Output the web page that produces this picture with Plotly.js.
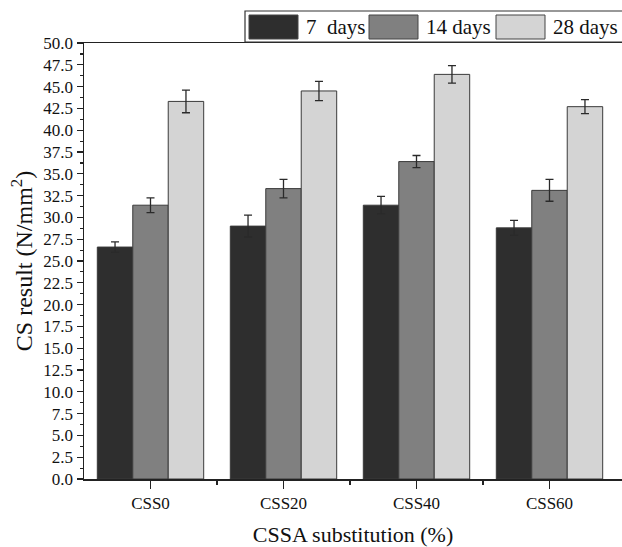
<!DOCTYPE html>
<html>
<head>
<meta charset="utf-8">
<script src="https://cdn.plot.ly/plotly-3.0.1.min.js"></script>
<style>html,body{margin:0;padding:0;background:#fff;}#chart{width:622px;height:547px;}</style>
</head>
<body>
<div id="chart"></div>
<script>
// Data
var categories = ["CSS0", "CSS20", "CSS40", "CSS60"];
var seriesNames = ["7  days", "14 days", "28 days"];
var days7 = [26.6, 29.0, 31.4, 28.8];
var days7Err = [0.6, 1.25, 1.0, 0.85];
var days14 = [31.4, 33.3, 36.4, 33.1];
var days14Err = [0.85, 1.05, 0.7, 1.25];
var days28 = [43.3, 44.5, 46.4, 42.7];
var days28Err = [1.3, 1.1, 1.0, 0.8];
var yTickVals = [0,2.5,5,7.5,10,12.5,15,17.5,20,22.5,25,27.5,30,32.5,35,37.5,40,42.5,45,47.5,50];

var colors = ["#2e2e2e", "#808080", "#d4d4d4"];
var values = [days7, days14, days28];
var errs = [days7Err, days14Err, days28Err];
var xIdx = categories.map(function(c, i){ return i; });

var traces = values.map(function(v, k){
  return {
    type: "bar",
    name: seriesNames[k],
    x: xIdx,
    y: v,
    marker: {color: colors[k], line: {color: "#3a3a3a", width: 1}},
    error_y: {type: "data", array: errs[k], visible: true, color: "#2a2a2a", thickness: 1.3, width: 4},
    showlegend: false
  };
});

var FONT = "Liberation Serif, Times New Roman, serif";
var L = 84, R = 622, T = 43, B = 479;
function px(x){ return (x - L) / (R - L); }
function py(y){ return (B - y) / (B - T); }

var shapes = [];
var annotations = [];
// legend box
shapes.push({type: "rect", xref: "paper", yref: "paper", x0: px(245), x1: px(640), y0: py(42), y1: py(11),
  line: {color: "#333", width: 1.2}, fillcolor: "#fff"});
var sw = [[249, 298], [369, 418], [496, 545]];
var tx = [304, 424, 551];
for (var k = 0; k < 3; k++) {
  shapes.push({type: "rect", xref: "paper", yref: "paper", x0: px(sw[k][0]), x1: px(sw[k][1]), y0: py(39), y1: py(15),
    line: {color: "#444", width: 1}, fillcolor: colors[k]});
  annotations.push({xref: "paper", yref: "paper", x: px(tx[k]), y: py(27), xanchor: "left", yanchor: "middle",
    text: seriesNames[k].replace(/ /g, "\u00a0"), showarrow: false, font: {family: FONT, size: 21, color: "#111"}});
}

var layout = {
  width: 622, height: 547,
  margin: {l: L, r: 622 - R, t: T, b: 547 - B, pad: 0},
  paper_bgcolor: "#fff", plot_bgcolor: "#fff",
  barmode: "group", bargap: 0.2, bargroupgap: 0,
  font: {family: FONT, color: "#111"},
  xaxis: {
    range: [-0.5, -0.5 + (R - L) / 133],
    tickmode: "array", tickvals: xIdx, ticktext: categories,
    ticks: "outside", ticklen: 8, tickwidth: 1.3, tickcolor: "#222",
    minor: {tickmode: "array", tickvals: [0.5, 1.5, 2.5], ticks: "outside", ticklen: 4, tickwidth: 1.3, tickcolor: "#222"},
    showline: true, linecolor: "#222", linewidth: 1.5, mirror: true,
    showgrid: false, zeroline: false,
    tickfont: {family: FONT, size: 17, color: "#111"},
    title: {text: "CSSA substitution (%)", font: {family: FONT, size: 22, color: "#111"}, standoff: 18}
  },
  yaxis: {
    range: [0, 50],
    tickmode: "array", tickvals: yTickVals, ticktext: yTickVals.map(function(v){ return v.toFixed(1); }),
    ticks: "outside", ticklen: 6, tickwidth: 1.3, tickcolor: "#222",
    minor: {dtick: 1.25, tick0: 0, ticks: "outside", ticklen: 3, tickwidth: 1.2, tickcolor: "#222"},
    showline: true, linecolor: "#222", linewidth: 1.5,
    showgrid: false, zeroline: false,
    tickfont: {family: FONT, size: 17, color: "#111"},
    title: {text: "CS result (N/mm<sup>2</sup>)", font: {family: FONT, size: 24, color: "#111"}, standoff: 4}
  },
  shapes: shapes,
  annotations: annotations,
  showlegend: false
};

Plotly.newPlot("chart", traces, layout, {displayModeBar: false, staticPlot: true});
</script>
</body>
</html>
